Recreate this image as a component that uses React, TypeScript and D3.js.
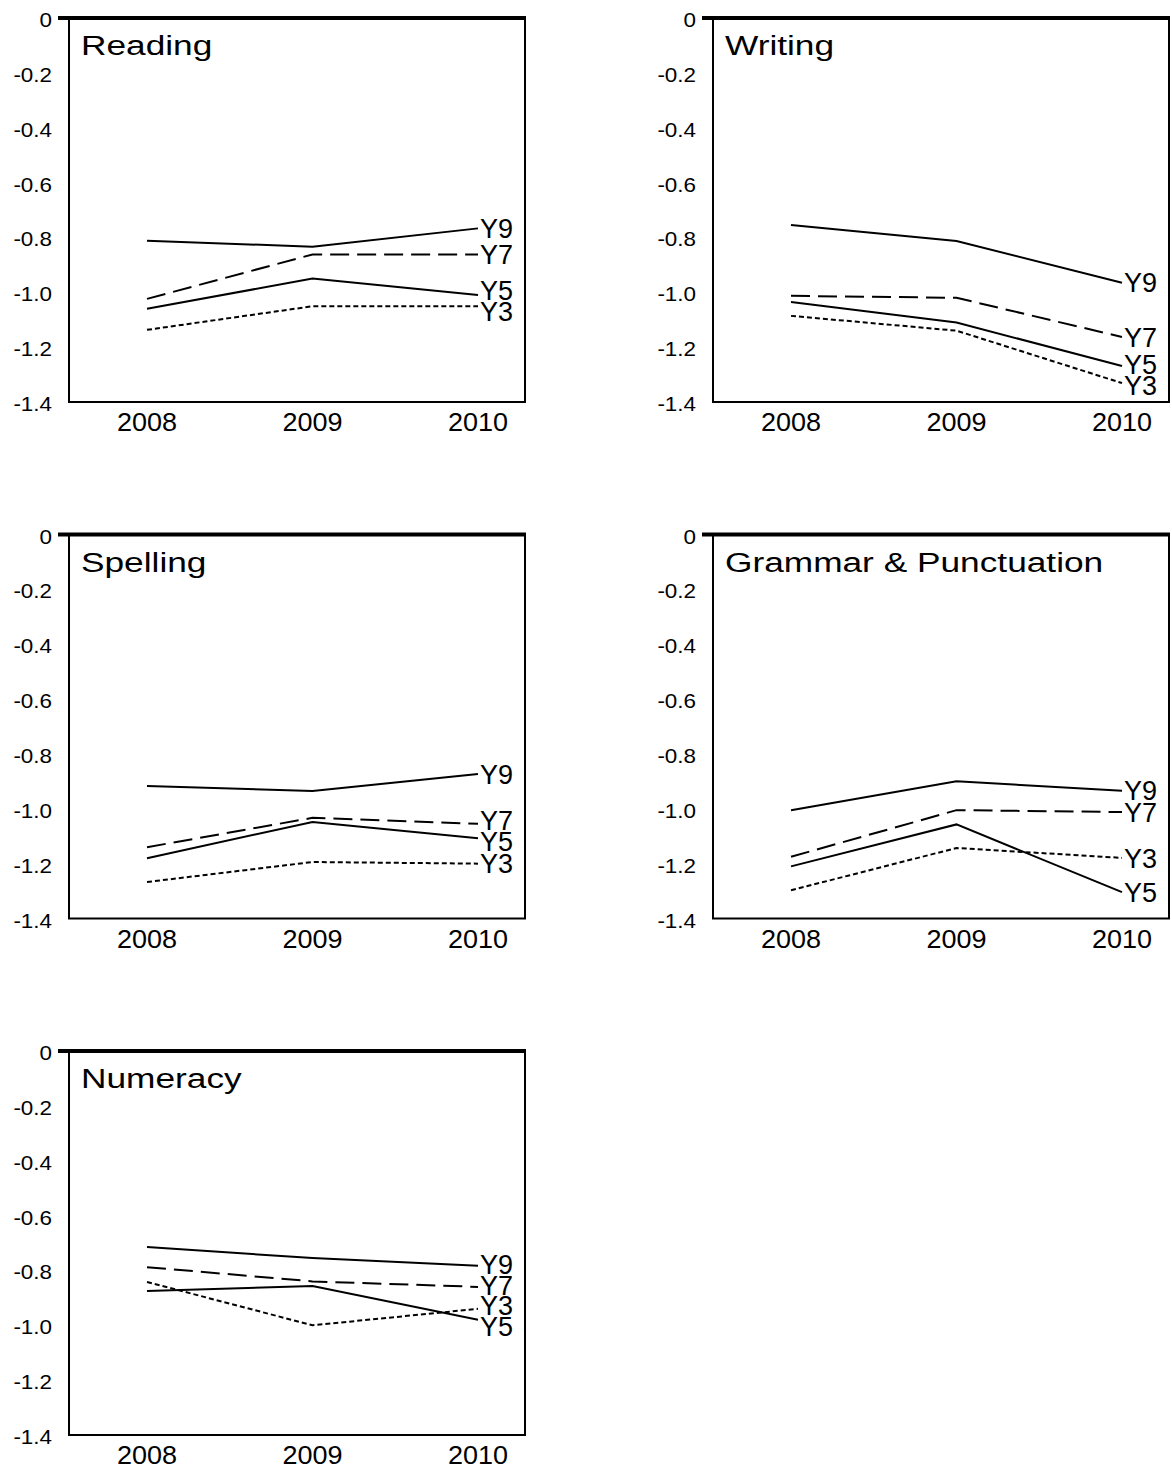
import React from "react";
import * as d3 from "d3";

const years = ["2008", "2009", "2010"];
const yTicks = [0, -0.2, -0.4, -0.6, -0.8, -1.0, -1.2, -1.4];
const seriesNames = ["Y9", "Y7", "Y5", "Y3"];

const reading = { Y9: [-0.812, -0.834, -0.767], Y7: [-1.024, -0.862, -0.862], Y5: [-1.06, -0.95, -1.01], Y3: [-1.137, -1.051, -1.051] };
const writing = { Y9: [-0.755, -0.813, -0.965], Y7: [-1.013, -1.02, -1.163], Y5: [-1.035, -1.11, -1.269], Y3: [-1.086, -1.14, -1.331] };
const spelling = { Y9: [-0.917, -0.935, -0.873], Y7: [-1.14, -1.033, -1.055], Y5: [-1.18, -1.048, -1.107], Y3: [-1.267, -1.194, -1.2] };
const grammar = { Y9: [-1.005, -0.9, -0.934], Y7: [-1.175, -1.005, -1.012], Y5: [-1.21, -1.057, -1.304], Y3: [-1.297, -1.143, -1.179] };
const numeracy = { Y9: [-0.715, -0.755, -0.783], Y7: [-0.788, -0.84, -0.86], Y5: [-0.875, -0.857, -0.98], Y3: [-0.842, -1.0, -0.94] };

const panelTitles = ["Reading", "Writing", "Spelling", "Grammar & Punctuation", "Numeracy"];
const panelData = [reading, writing, spelling, grammar, numeracy];

const dashes: Record<string, string | undefined> = { Y9: undefined, Y7: "19 8", Y5: undefined, Y3: "5 3" };
const FONT = "'Liberation Sans', Arial, Helvetica, sans-serif";

function spread(vals: number[], gap: number): number[] {
  const idx = vals.map((v, i) => i).sort((a, b) => vals[a] - vals[b]);
  const p = idx.map((i) => vals[i]);
  for (let it = 0; it < 100; it++) {
    for (let k = 0; k < p.length - 1; k++) {
      const d = p[k + 1] - p[k];
      if (d < gap) {
        const m = (gap - d) / 2;
        p[k] -= m;
        p[k + 1] += m;
      }
    }
  }
  const out = new Array(vals.length);
  idx.forEach((i, k) => (out[i] = p[k]));
  return out;
}

function Panel({ index }: { index: number }) {
  const col = index % 2;
  const row = Math.floor(index / 2);
  const left = 69 + col * 644;
  const right = left + 456;
  const top = 18 + row * 516.5;
  const bottom = top + 384;
  const x = d3.scalePoint<string>().domain(years).range([left + 78, left + 409]);
  const y = d3.scaleLinear().domain([0, -1.4]).range([top, bottom]);
  const data: Record<string, number[]> = panelData[index] as any;
  const line = d3
    .line<number>()
    .x((_, i) => x(years[i]) as number)
    .y((v) => y(v));
  const ends = seriesNames.map((s) => y(data[s][2]));
  const labY = spread(ends, 20.5);
  const endX = x(years[2]) as number;
  return (
    <g>
      {seriesNames.map((s) => (
        <path key={s} d={line(data[s]) || ""} fill="none" stroke="#000" strokeWidth={2} strokeDasharray={dashes[s]} />
      ))}
      {seriesNames.map((s, i) => (
        <text key={s} x={endX + 2} y={labY[i]} dy="0.36em" fontSize={27} fontFamily={FONT}>
          {s}
        </text>
      ))}
      <path d={`M${left},${top} V${bottom} H${right} V${top}`} fill="none" stroke="#000" strokeWidth={2} />
      <line x1={left - 11} x2={right + 1} y1={top} y2={top} stroke="#000" strokeWidth={4} />
      {yTicks.map((t) => (
        <text
          key={t}
          transform={`translate(${left - 17},${y(t) + 9}) scale(1.15,1)`}
          textAnchor="end"
          fontSize={19.5}
          fontFamily={FONT}
        >
          {t === 0 ? "0" : t.toFixed(1)}
        </text>
      ))}
      {years.map((yr) => (
        <text
          key={yr}
          transform={`translate(${x(yr)},${bottom + 29}) scale(1.08,1)`}
          textAnchor="middle"
          fontSize={25}
          fontFamily={FONT}
        >
          {yr}
        </text>
      ))}
      <text transform={`translate(${left + 12},${top + 37}) scale(1.26,1)`} fontSize={28} fontFamily={FONT}>
        {panelTitles[index]}
      </text>
    </g>
  );
}

export default function App() {
  return (
    <svg width={1172} height={1469} style={{ position: "absolute", left: 0, top: 0, background: "#fff" }}>
      <rect width={1172} height={1469} fill="#fff" />
      {panelTitles.map((_, i) => (
        <Panel key={i} index={i} />
      ))}
    </svg>
  );
}
